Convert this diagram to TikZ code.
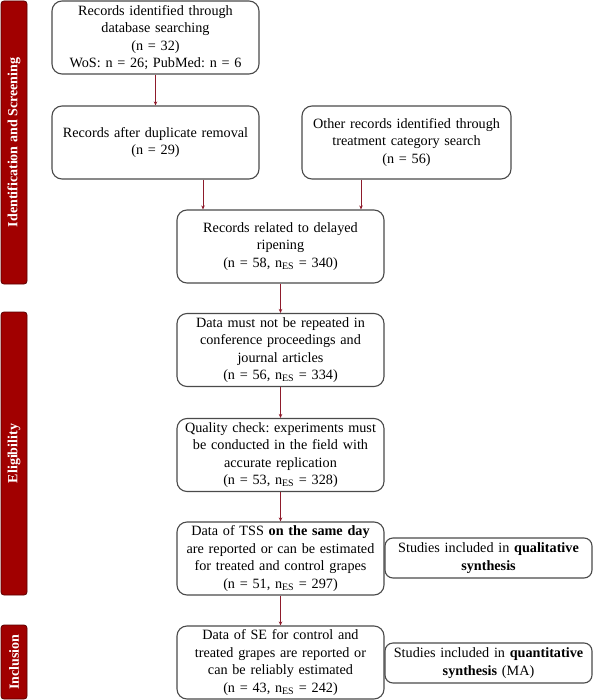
\documentclass[tikz,border=0pt]{standalone}
\usepackage{fontspec}
\setmainfont{Liberation Serif}
\usetikzlibrary{arrows.meta,calc}
\definecolor{bannerred}{HTML}{A10000}
\definecolor{bannerdark}{HTML}{5A0000}
\definecolor{arrred}{HTML}{8E1B2B}
\definecolor{boxgray}{HTML}{4A4A4A}
\frenchspacing
\begin{document}
\begin{tikzpicture}[x=1pt,y=-1pt,
  flowbox/.style={draw=boxgray,line width=1.1pt,rounded corners=10pt,align=center,
    minimum width=207pt,minimum height=73pt,text width=200pt,inner sep=2pt,
    font=\fontsize{14.2}{17.6}\selectfont},
  sidebox/.style={draw=boxgray,line width=1.1pt,rounded corners=8pt,align=center,
    minimum width=207pt,minimum height=40pt,text width=200pt,inner sep=2pt,
    font=\fontsize{14.2}{17.6}\selectfont},
  banner/.style={draw=bannerdark,fill=bannerred,line width=0.8pt,rounded corners=3pt,
    minimum width=26pt,inner sep=0pt},
  bannertext/.style={rotate=90,text=white,font=\bfseries\fontsize{14}{16}\selectfont},
  arr/.style={draw=arrred,line width=1pt,-{Stealth[length=4pt,width=3.5pt]}}
]
\useasboundingbox (0,0) rectangle (593,700);
% banners
\node[banner,minimum height=283pt] (b1) at (14,142.5) {};
\node[bannertext] (b1t) at (b1.center) {Identification and Screening};
\node[banner,minimum height=283pt] (b2) at (14,453.5) {};
\node[bannertext] (b2t) at (b2.center) {Eligibility};
\node[banner,minimum height=74pt] (b3) at (14,662) {};
\node[bannertext] (b3t) at (b3.center) {Inclusion};
% boxes
\node[flowbox] (n1) at (155.5,37.5) {Records identified through\\database searching\\(n = 32)\\WoS: n = 26; PubMed: n = 6};
\node[flowbox] (n2) at (155.5,142.5) {Records after duplicate removal\\(n = 29)};
\node[flowbox,minimum width=209pt] (n3) at (406.5,142.5) {Other records identified through\\treatment category search\\(n = 56)};
\node[flowbox] (n4) at (280.5,246.5) {Records related to delayed\\ripening\\(n = 58, n\textsubscript{ES} = 340)};
\node[flowbox] (n5) at (280.5,350) {Data must not be repeated in\\conference proceedings and\\journal articles\\(n = 56, n\textsubscript{ES} = 334)};
\node[flowbox] (n6) at (280.5,455) {Quality check: experiments must\\be conducted in the field with\\accurate replication\\(n = 53, n\textsubscript{ES} = 328)};
\node[flowbox] (n7) at (280.5,558.5) {Data of TSS \textbf{on the same day}\\are reported or can be estimated\\for treated and control grapes\\(n = 51, n\textsubscript{ES} = 297)};
\node[flowbox] (n8) at (280.5,662.5) {Data of SE for control and\\treated grapes are reported or\\can be reliably estimated\\(n = 43, n\textsubscript{ES} = 242)};
\node[sidebox] (s1) at (488.5,558) {Studies included in \textbf{qualitative}\\\textbf{synthesis}};
\node[sidebox] (s2) at (488.5,663) {Studies included in \textbf{quantitative}\\\textbf{synthesis} (MA)};
% arrows
\draw[arr] (n1.south) -- (n2.north);
\draw[arr] ([xshift=47.5pt]n2.south) -- ([xshift=47.5pt]n2.south |- n4.north);
\draw[arr] ([xshift=-45.5pt]n3.south) -- ([xshift=-45.5pt]n3.south |- n4.north);
\draw[arr] (n4.south) -- (n5.north);
\draw[arr] (n5.south) -- (n6.north);
\draw[arr] (n6.south) -- (n7.north);
\draw[arr] (n7.south) -- (n8.north);
\end{tikzpicture}
\end{document}
